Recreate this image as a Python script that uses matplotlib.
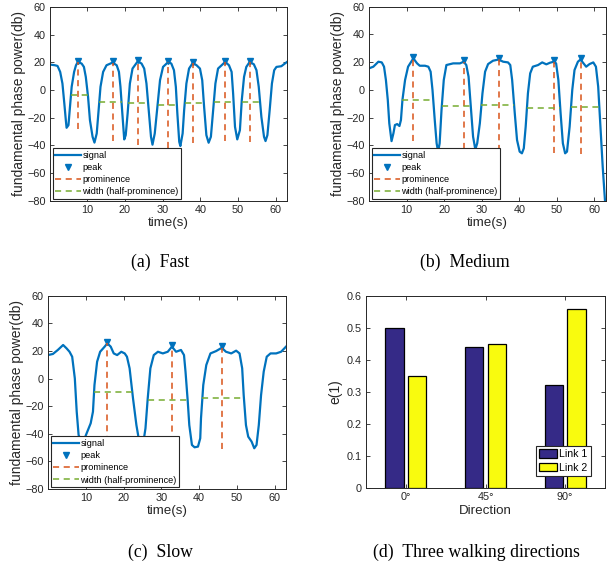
import matplotlib
matplotlib.use("Agg")
import matplotlib.pyplot as plt
import numpy as np

plt.rcParams['font.family'] = ['Liberation Sans', 'DejaVu Sans']

# (a) fast walking
fast_t = [0.1, 1.4, 2.1, 2.8, 3.4, 3.9, 4.3, 4.5, 5.0, 5.4, 5.85, 6.5, 7.0, 7.5, 8.5, 9.1, 9.6, 10.2, 10.7,
          11.4, 11.9, 12.5, 13.0, 13.5, 14.2, 15.1, 16.7, 17.8, 18.4, 18.8, 19.3, 19.8, 20.2, 20.7, 21.3, 22.0,
          23.4, 24.4, 25.1, 25.7, 26.3, 26.9, 27.3, 27.9, 28.6, 29.3, 30.1, 31.5, 32.3, 33.0, 33.5, 33.9, 34.4,
          34.7, 35.3, 35.7, 36.3, 37.0, 38.0, 39.0, 39.9, 40.5, 41.0, 41.6, 42.2, 42.8, 43.4, 44.0, 44.7, 46.6,
          47.6, 48.3, 48.7, 49.2, 49.8, 50.5, 51.0, 51.6, 52.2, 53.1, 54.2, 54.9, 55.5, 56.2, 56.9, 57.3, 57.8,
          58.4, 59.0, 59.6, 60.2, 61.5, 63.0]
fast_v = [18.4, 17.9, 17.4, 13.1, 4.7, -9.7, -21.8, -27.3, -25.4, -12.2, 2.3, 13.1, 17.9, 20.3, 19.1, 16.7,
          9.5, -4.9, -21.8, -33.8, -38.0, -31.4, -14.6, 2.3, 13.1, 17.9, 19.8, 17.9, 13.1, 2.3, -17.0, -35.7,
          -32.6, -17.0, 4.7, 15.5, 20.8, 19.1, 15.5, 4.7, -14.6, -33.8, -39.5, -31.4, -12.2, 7.1, 16.7, 20.3,
          19.1, 14.3, 2.3, -17.0, -37.4, -40.5, -31.4, -14.6, 4.7, 15.5, 19.6, 17.9, 15.5, 7.1, -12.2, -32.6,
          -38.1, -33.8, -14.6, 4.7, 15.5, 20.3, 17.9, 13.1, -2.5, -26.6, -35.7, -29.0, -7.3, 9.5, 16.7, 20.3,
          18.6, 14.3, 2.3, -19.4, -33.8, -36.9, -32.6, -14.6, 4.7, 14.3, 16.7, 17.2, 20.3]
fast_pk_t = [7.5, 16.7, 23.4, 31.5, 38.0, 46.6, 53.1]
fast_pk_v = [20.3, 19.8, 20.8, 20.3, 19.6, 20.3, 20.3]
fast_base = [-28.0, -36.8, -40.0, -42.0, -38.5, -37.0, -37.5]

# (b) medium walking
medium_t = [0.0, 1.15, 2.5, 3.4, 4.0, 4.5, 5.0, 5.4, 6.0, 6.5, 6.9, 7.5, 8.1, 8.5, 8.9, 9.6, 10.4, 11.8, 12.8,
            13.5, 14.9, 15.8, 16.4, 16.9, 17.5, 18.0, 18.4, 18.8, 19.3, 19.9, 20.6, 22.4, 24.2, 25.2, 25.9,
            26.5, 27.1, 27.7, 28.3, 28.8, 29.5, 30.2, 30.9, 31.7, 33.0, 34.5, 35.7, 37.0, 37.6, 38.1, 38.8,
            39.4, 40.1, 40.7, 41.2, 41.7, 42.3, 42.9, 43.6, 45.0, 46.1, 47.2, 48.2, 49.2, 49.8, 50.4, 51.0,
            51.6, 52.2, 52.7, 53.4, 54.1, 54.7, 55.6, 56.3, 57.1, 57.8, 58.7, 59.7, 60.4, 61.0, 61.6, 62.2, 62.8]
medium_v = [15.5, 16.7, 20.3, 19.8, 16.7, 7.1, -7.3, -24.2, -37.0, -31.4, -25.4, -24.7, -26.1, -21.8, -7.3,
            7.1, 16.7, 22.7, 19.1, 17.4, 17.4, 16.7, 13.1, -0.1, -21.8, -38.6, -44.6, -38.6, -14.6, 7.1, 17.9,
            19.1, 19.1, 20.3, 17.9, 9.5, -12.2, -33.8, -43.0, -38.6, -24.2, -2.5, 13.1, 18.6, 21.0, 21.9, 20.3,
            19.8, 17.9, 7.1, -17.0, -36.2, -44.6, -45.8, -42.2, -26.6, -2.5, 11.9, 16.7, 17.9, 19.8, 18.4, 19.6,
            20.3, 19.1, 7.1, -17.0, -38.6, -45.8, -44.6, -26.6, -0.1, 14.3, 20.3, 21.9, 19.1, 16.7, 18.6, 19.8,
            16.7, 2.3, -26.6, -55.4, -79.5]
medium_pk_t = [11.8, 25.2, 34.5, 49.2, 56.3]
medium_pk_v = [22.7, 20.3, 21.9, 20.3, 21.9]
medium_base = [-37.0, -43.0, -44.0, -45.8, -46.0]

# (c) slow walking
slow_t = [0.0, 1.3, 2.6, 4.0, 4.9, 5.7, 6.4, 7.1, 7.6, 8.1, 8.8, 9.7, 10.4, 11.3, 11.9, 12.3, 13.0, 13.8, 15.0,
          15.7, 16.6, 17.4, 18.3, 19.4, 20.3, 20.9, 21.6, 22.5, 23.4, 24.0, 24.7, 25.4, 25.8, 26.4, 27.1, 28.0,
          29.1, 30.4, 31.7, 32.8, 33.9, 35.2, 36.0, 36.4, 37.0, 37.4, 38.1, 38.8, 39.7, 40.3, 40.5, 41.1, 41.9,
          43.0, 44.5, 46.0, 47.1, 48.5, 49.8, 50.7, 51.4, 51.8, 52.4, 53.0, 53.9, 54.6, 55.2, 55.8, 56.4, 57.1,
          57.9, 58.9, 60.4, 61.7, 63.0]
slow_v = [17.0, 17.8, 20.7, 24.3, 21.9, 19.4, 15.8, 0.1, -24.0, -40.9, -45.7, -43.3, -38.5, -32.4, -24.0, -4.7,
          12.2, 19.4, 23.1, 25.5, 23.1, 18.2, 17.0, 19.4, 18.2, 15.8, 7.4, -14.3, -33.7, -43.3, -48.1, -43.3,
          -36.1, -14.3, 7.4, 17.0, 19.4, 18.2, 19.4, 23.1, 19.4, 20.7, 17.0, 5.0, -16.8, -33.7, -48.1, -49.8,
          -49.3, -43.3, -28.8, -4.7, 9.8, 18.2, 19.9, 22.3, 19.4, 18.2, 20.2, 18.2, 7.4, -12.0, -33.7, -42.1,
          -45.7, -50.5, -48.1, -33.7, -12.0, 5.0, 15.8, 18.2, 18.2, 19.4, 23.1]
slow_pk_t = [15.7, 32.8, 46.0]
slow_pk_v = [25.5, 23.1, 22.3]
slow_base = [-45.7, -54.0, -51.0]

# (d) three walking directions
directions = ['0°', '45°', '90°']
link1 = [0.50, 0.44, 0.32]
link2 = [0.35, 0.45, 0.56]

BLUE = '#0072BD'
ORANGE = '#D95319'
GREEN = '#77AC30'
DARK = '#262626'


def half_width(t, v, tp, h):
    t = np.asarray(t)
    v = np.asarray(v)
    i = int(np.searchsorted(t, tp))
    j = i - 1
    while j > 0 and v[j] > h:
        j -= 1
    if v[j] <= h:
        left = t[j] + (h - v[j]) * (t[j + 1] - t[j]) / (v[j + 1] - v[j])
    else:
        left = t[0]
    k = i
    while k < len(t) - 1 and v[k] > h:
        k += 1
    if v[k] <= h:
        right = t[k - 1] + (h - v[k - 1]) * (t[k] - t[k - 1]) / (v[k] - v[k - 1])
    else:
        right = t[-1]
    return left, right


def style_axes(ax):
    for s in ax.spines.values():
        s.set_color(DARK)
        s.set_linewidth(0.7)
    ax.tick_params(direction='in', top=True, right=True, length=3, width=0.6,
                   labelsize=7.8, pad=3, color=DARK, labelcolor=DARK)


def signal_panel(ax, t, v, pk_t, pk_v, base):
    pk_v = np.array(pk_v)
    base = np.array(base)
    ax.plot(t, v, color=BLUE, lw=1.6, label='signal', zorder=2)
    ax.plot(pk_t, pk_v + 1.0, 'v', color=BLUE, ms=5, label='peak', zorder=3)
    ax.vlines(pk_t, base, pk_v, colors=ORANGE, linestyles=(0, (4, 3)), lw=1.1,
              label='prominence', zorder=4)
    heights = (pk_v + base) / 2
    lefts, rights = [], []
    for tp, h in zip(pk_t, heights):
        l, r = half_width(t, v, tp, h)
        lefts.append(l)
        rights.append(r)
    ax.hlines(heights, lefts, rights, colors=GREEN, linestyles=(0, (4, 3)), lw=1.1,
              label='width (half-prominence)', zorder=4)
    ax.set_xlim(0.1, 63)
    ax.set_ylim(-80, 60)
    ax.set_xticks(range(10, 61, 10))
    ax.set_yticks(range(-80, 61, 20))
    ax.set_xlabel('time(s)', fontsize=9.6, color=DARK, labelpad=1.5)
    ax.set_ylabel('fundamental phase power(db)', fontsize=10, color=DARK, labelpad=1)
    style_axes(ax)
    leg = ax.legend(loc='lower left', bbox_to_anchor=(0.011, 0.008), borderaxespad=0,
                    fontsize=6.6, handlelength=2.8, handletextpad=0.15, labelspacing=0.35,
                    borderpad=0.3, fancybox=False, framealpha=1, edgecolor=DARK)
    leg.get_frame().set_linewidth(0.8)


W, H = 613, 565
fig = plt.figure(figsize=(W / 100, H / 100), dpi=100)


def add_axes(left, top, right, bottom):
    return fig.add_axes([left / W, 1 - bottom / H, (right - left) / W, (bottom - top) / H])


ax_a = add_axes(50, 7, 287, 200.7)
signal_panel(ax_a, fast_t, fast_v, fast_pk_t, fast_pk_v, fast_base)

ax_b = add_axes(369, 6.7, 605.7, 200.7)
signal_panel(ax_b, medium_t, medium_v, medium_pk_t, medium_pk_v, medium_base)
ax_b.set_xlim(0, 63)

ax_c = add_axes(48, 295.7, 286, 489)
signal_panel(ax_c, slow_t, slow_v, slow_pk_t, slow_pk_v, slow_base)
ax_c.set_xlim(0, 63)

ax_d = add_axes(366, 295.7, 605, 487.7)
x = np.arange(1, len(directions) + 1)
ax_d.bar(x - 0.143, link1, 0.229, color='#352A87', edgecolor='black', lw=0.9, label='Link 1')
ax_d.bar(x + 0.143, link2, 0.229, color='#F9FB0E', edgecolor='black', lw=0.9, label='Link 2')
ax_d.set_xlim(0.5, 3.5)
ax_d.set_ylim(0, 0.6)
ax_d.set_xticks(x)
ax_d.set_xticklabels(directions)
yt = np.arange(0, 0.61, 0.1)
ax_d.set_yticks(yt)
ax_d.set_yticklabels(['0'] + ['%.1f' % y for y in yt[1:]])
ax_d.set_xlabel('Direction', fontsize=9.6, color=DARK, labelpad=2)
ax_d.set_ylabel('e(1)', fontsize=10, color=DARK, labelpad=3)
style_axes(ax_d)
leg = ax_d.legend(loc='lower right', bbox_to_anchor=(0.941, 0.061), borderaxespad=0,
                  fontsize=7.6, handlelength=1.7, handleheight=0.85, handletextpad=0.2,
                  labelspacing=0.35, borderpad=0.3, fancybox=False, framealpha=1, edgecolor=DARK)
leg.get_frame().set_linewidth(0.8)

caps = ['(a)  Fast', '(b)  Medium', '(c)  Slow', '(d)  Three walking directions']
cap_x = [160, 465, 161, 476]
cap_y = [267, 267, 557, 557]
for c, cx, cy in zip(caps, cap_x, cap_y):
    fig.text(cx / W, 1 - cy / H, c, ha='center', va='baseline', fontsize=12.8,
             family=['Liberation Serif', 'DejaVu Serif'], color='black')

fig.savefig('out.png', dpi=100)
